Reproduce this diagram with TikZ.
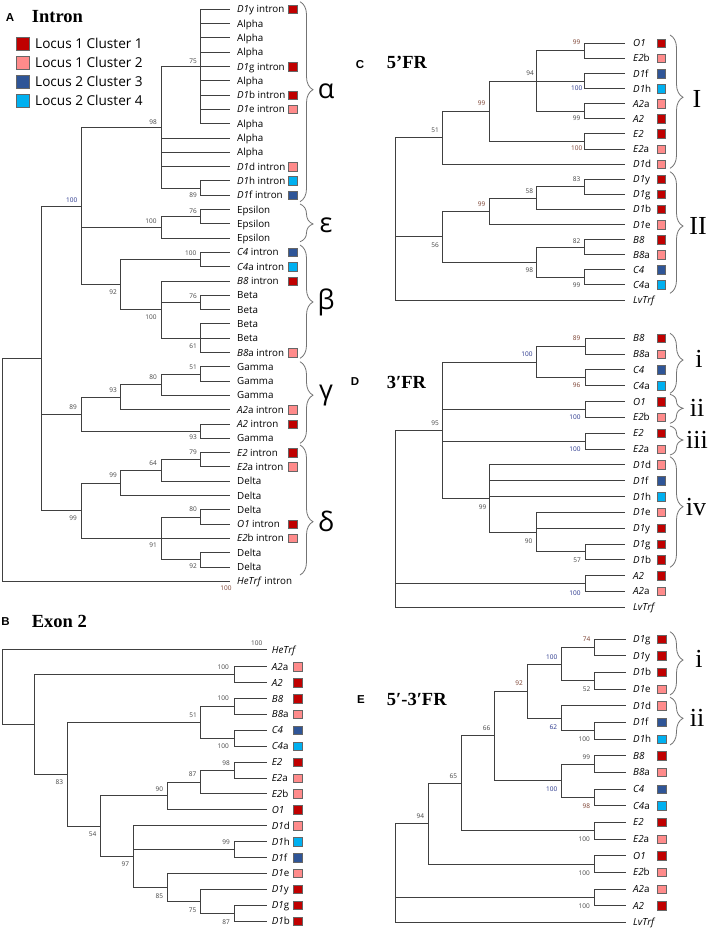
\documentclass[tikz,border=0pt]{standalone}
\usepackage{fontspec}
\setmainfont{Liberation Serif}
\newfontfamily\osf{Open Sans}
\newfontfamily\arf{Liberation Sans}
\usetikzlibrary{decorations.pathreplacing}
\definecolor{cA}{HTML}{C00000}
\definecolor{cB}{HTML}{FF8B8B}
\definecolor{cC}{HTML}{2F5597}
\definecolor{cD}{HTML}{00B0F0}
\definecolor{trc}{HTML}{404040}
\definecolor{bsg}{HTML}{444444}
\definecolor{bsb}{HTML}{23318A}
\definecolor{bsr}{HTML}{7A3E2E}
\newcounter{bsn}
\tikzset{
 tr/.style={draw=trc, line width=0.9pt},
 lbl/.style={anchor=west, inner sep=0pt, font=\osf\fontsize{9.8}{10}\selectfont, text height=7.5pt, text depth=0.5pt},
 sq/.style={draw=black!60, line width=0.5pt, minimum size=8.5pt, inner sep=0pt},
 bs/.style={inner sep=0pt, font=\osf\fontsize{6.5}{7}\selectfont},
 brc/.style={draw=black!55, line width=0.8pt},
 grk/.style={inner sep=0pt, font=\osf\fontsize{27}{28}\selectfont},
 rom/.style={inner sep=0pt, font=\fontsize{26}{28}\selectfont},
 ttl/.style={anchor=base west, inner sep=0pt, font=\bfseries\fontsize{18.5}{20}\selectfont},
 plet/.style={inner sep=0pt, font=\arf\bfseries\fontsize{11.5}{12}\selectfont},
 leg/.style={anchor=west, inner sep=0pt, font=\osf\fontsize{13.6}{15}\selectfont, text height=10pt, text depth=0pt},
 lsq/.style={draw=black!60, line width=0.6pt, minimum size=13pt, inner sep=0pt},
}
\newcommand\Lf[4]{\coordinate (#1) at (#2,#3);\node[lbl] (#1t) at (#2+\tg,#3) {#4};}
\newcommand\Ls[5]{\Lf{#1}{#2}{#3}{#4}\node[sq,fill=#5] (#1s) at (\sqx,#3) {};}
\newcommand\El[2]{\foreach \ch in {#2} {\draw[tr] (#1) |- (\ch);}}
\newcommand\Bs[4][bsg]{\stepcounter{bsn}\node[bs,text=#1] (bs\arabic{bsn}) at (#2,#3) {#4};}
\newcommand\Br[9]{\draw[brc,decoration={brace,amplitude=13pt,aspect=#5},decorate] (#2,#3) -- (#2,#4);
 \node[#8] (#1) at (#6,#7) {#9};}
\begin{document}
\begin{tikzpicture}[x=1pt,y=-1pt]
\useasboundingbox (0,0) rectangle (709,930);
\fill[white] (0,0) rectangle (709,930);
% ---------- Panel A ----------
\node[plet] (pA) at (10,18) {A};
\node[ttl] (tA) at (31.7,22) {Intron};
\node[lsq,fill=cA] (lg1) at (22.7,43.3) {};
\node[leg] (lt1) at (35,43.3) {Locus 1 Cluster 1};
\node[lsq,fill=cB] (lg2) at (22.7,62.3) {};
\node[leg] (lt2) at (35,62.3) {Locus 1 Cluster 2};
\node[lsq,fill=cC] (lg3) at (22.7,81.3) {};
\node[leg] (lt3) at (35,81.3) {Locus 2 Cluster 3};
\node[lsq,fill=cD] (lg4) at (22.7,100.3) {};
\node[leg] (lt4) at (35,100.3) {Locus 2 Cluster 4};
\def\tg{7}\def\sqx{292.5}
\Ls{a0}{230}{9.3}{\textit{D1}y intron}{cA}
\Lf{a1}{230}{23.6}{Alpha}
\Lf{a2}{230}{37.9}{Alpha}
\Lf{a3}{230}{52.2}{Alpha}
\Ls{a4}{230}{66.5}{\textit{D1}g intron}{cA}
\Lf{a5}{230}{80.8}{Alpha}
\Ls{a6}{230}{95.1}{\textit{D1}b intron}{cA}
\Ls{a7}{230}{109.4}{\textit{D1}e intron}{cB}
\Lf{a8}{230}{123.7}{Alpha}
\Lf{a9}{230}{138.0}{Alpha}
\Lf{a10}{230}{152.3}{Alpha}
\Ls{a11}{230}{166.6}{\textit{D1}d intron}{cB}
\Ls{a12}{230}{180.9}{\textit{D1}h intron}{cD}
\Ls{a13}{230}{195.2}{\textit{D1}f intron}{cC}
\Lf{a14}{230}{209.5}{Epsilon}
\Lf{a15}{230}{223.8}{Epsilon}
\Lf{a16}{230}{238.1}{Epsilon}
\Ls{a17}{230}{252.4}{\textit{C4} intron}{cC}
\Ls{a18}{230}{266.7}{\textit{C4}a intron}{cD}
\Ls{a19}{230}{281.0}{\textit{B8} intron}{cA}
\Lf{a20}{230}{295.3}{Beta}
\Lf{a21}{230}{309.6}{Beta}
\Lf{a22}{230}{323.9}{Beta}
\Lf{a23}{230}{338.2}{Beta}
\Ls{a24}{230}{352.5}{\textit{B8}a intron}{cB}
\Lf{a25}{230}{366.8}{Gamma}
\Lf{a26}{230}{381.1}{Gamma}
\Lf{a27}{230}{395.4}{Gamma}
\Ls{a28}{230}{409.7}{\textit{A2}a intron}{cB}
\Ls{a29}{230}{424.0}{\textit{A2} intron}{cA}
\Lf{a30}{230}{438.3}{Gamma}
\Ls{a31}{230}{452.6}{\textit{E2} intron}{cA}
\Ls{a32}{230}{466.9}{\textit{E2}a intron}{cB}
\Lf{a33}{230}{481.2}{Delta}
\Lf{a34}{230}{495.5}{Delta}
\Lf{a35}{230}{509.8}{Delta}
\Ls{a36}{230}{524.1}{\textit{O1} intron}{cA}
\Ls{a37}{230}{538.4}{\textit{E2}b intron}{cB}
\Lf{a38}{230}{552.7}{Delta}
\Lf{a39}{230}{567.0}{Delta}
\Lf{a40}{230}{581.3}{\textit{HeTrf} intron}
\coordinate (nA1) at (200,66.5);
\coordinate (nA2) at (200,188.05);
\coordinate (nA3) at (161,127.3);
\coordinate (nA4) at (200,216.65);
\coordinate (nA5) at (161,227.4);
\coordinate (nA6) at (200,259.55);
\coordinate (nA7) at (200,302.45);
\coordinate (nA8) at (200,338.2);
\coordinate (nA9) at (161,309.6);
\coordinate (nA10) at (120,284.6);
\coordinate (nA11) at (81.7,205.95);
\coordinate (nA12) at (200,373.95);
\coordinate (nA13) at (161,384.7);
\coordinate (nA14) at (120,397.2);
\coordinate (nA15) at (200,431.15);
\coordinate (nA16) at (81.7,414.2);
\coordinate (nA17) at (200,459.75);
\coordinate (nA18) at (161,470.5);
\coordinate (nA19) at (120,483);
\coordinate (nA20) at (200,516.95);
\coordinate (nA21) at (200,559.85);
\coordinate (nA22) at (161,538.4);
\coordinate (nA23) at (81.7,510.7);
\coordinate (nA24) at (41,358.3);
\coordinate (nA0) at (2.7,469.8);
\El{nA1}{a0,a1,a2,a3,a4,a5,a6,a7,a8}
\El{nA2}{a12,a13}
\El{nA3}{nA1,a9,a10,a11,nA2}
\El{nA4}{a14,a15}
\El{nA5}{nA4,a16}
\El{nA6}{a17,a18}
\El{nA7}{a20,a21}
\El{nA8}{a22,a23,a24}
\El{nA9}{a19,nA7,nA8}
\El{nA10}{nA6,nA9}
\El{nA11}{nA3,nA5,nA10}
\El{nA12}{a25,a26}
\El{nA13}{nA12,a27}
\El{nA14}{nA13,a28}
\El{nA15}{a29,a30}
\El{nA16}{nA14,nA15}
\El{nA17}{a31,a32}
\El{nA18}{nA17,a33}
\El{nA19}{nA18,a34}
\El{nA20}{a35,a36}
\El{nA21}{a38,a39}
\El{nA22}{nA20,nA21}
\El{nA23}{nA19,a37,nA22}
\El{nA24}{nA11,nA16,nA23}
\El{nA0}{nA24,a40}
\Bs{193}{61.7}{75}
\Bs{153}{121.7}{98}
\Bs{193}{195}{89}
\Bs[bsb]{71.7}{200}{100}
\Bs{193}{211}{76}
\Bs{151}{221}{100}
\Bs{190.7}{253.3}{100}
\Bs{113}{291.7}{92}
\Bs{193}{295.7}{76}
\Bs{151}{316.7}{100}
\Bs{193}{345.7}{61}
\Bs{193}{367}{51}
\Bs{153}{377.3}{80}
\Bs{113}{390}{93}
\Bs{73}{407.3}{89}
\Bs{193}{436.7}{93}
\Bs{193}{452.3}{79}
\Bs{153}{462.7}{64}
\Bs{113}{475}{99}
\Bs{193}{509.3}{80}
\Bs{73}{517.7}{99}
\Bs{153}{545}{91}
\Bs{193}{565.7}{92}
\Bs[bsr]{226}{588.3}{100}
\Br{gA1}{300}{1.7}{201.7}{0.44}{326}{91}{grk}{α}
\Br{gA2}{300}{204}{241.7}{0.53}{326}{225}{grk}{ε}
\Br{gA3}{300}{245}{358.3}{0.503}{326}{302.5}{grk}{β}
\Br{gA4}{300}{361.7}{443.3}{0.41}{326}{395.3}{grk}{γ}
\Br{gA5}{300}{445}{575}{0.59}{326}{521}{grk}{δ}
% ---------- Panel B ----------
\node[plet] (pB) at (5.5,622) {B};
\node[ttl] (tB) at (31.7,627) {Exon 2};
\def\tg{5}\def\sqx{297.5}
\Lf{bH}{266.7}{649.5}{\textit{HeTrf}}
\Ls{b0}{266.7}{666.7}{\textit{A2}a}{cB}
\Ls{b1}{266.7}{682.6}{\textit{A2}}{cA}
\Ls{b2}{266.7}{698.5}{\textit{B8}}{cA}
\Ls{b3}{266.7}{714.4}{\textit{B8}a}{cB}
\Ls{b4}{266.7}{730.3}{\textit{C4}}{cC}
\Ls{b5}{266.7}{746.2}{\textit{C4}a}{cD}
\Ls{b6}{266.7}{762.1}{\textit{E2}}{cA}
\Ls{b7}{266.7}{778.0}{\textit{E2}a}{cB}
\Ls{b8}{266.7}{793.9}{\textit{E2}b}{cB}
\Ls{b9}{266.7}{809.8}{\textit{O1}}{cA}
\Ls{b10}{266.7}{825.7}{\textit{D1}d}{cB}
\Ls{b11}{266.7}{841.6}{\textit{D1}h}{cD}
\Ls{b12}{266.7}{857.5}{\textit{D1}f}{cC}
\Ls{b13}{266.7}{873.4}{\textit{D1}e}{cB}
\Ls{b14}{266.7}{889.3}{\textit{D1}y}{cA}
\Ls{b15}{266.7}{905.2}{\textit{D1}g}{cA}
\Ls{b16}{266.7}{921.1}{\textit{D1}b}{cA}
\coordinate (nB1) at (234.3,674.65);
\coordinate (nB2) at (234.3,706.45);
\coordinate (nB3) at (234.3,738.25);
\coordinate (nB4) at (200.3,722.35);
\coordinate (nB5) at (234.3,770.05);
\coordinate (nB6) at (200.3,781.98);
\coordinate (nB7) at (167.3,795.9);
\coordinate (nB8) at (234.3,849.55);
\coordinate (nB9) at (234.3,913.15);
\coordinate (nB10) at (200.3,901.2);
\coordinate (nB11) at (167.3,887.3);
\coordinate (nB12) at (133.7,856.5);
\coordinate (nB13) at (100.7,826.2);
\coordinate (nB14) at (67.7,774.3);
\coordinate (nB15) at (34.7,724.5);
\coordinate (nB0) at (2.7,687);
\El{nB1}{b0,b1}
\El{nB2}{b2,b3}
\El{nB3}{b4,b5}
\El{nB4}{nB2,nB3}
\El{nB5}{b6,b7}
\El{nB6}{nB5,b8}
\El{nB7}{nB6,b9}
\El{nB8}{b11,b12}
\El{nB9}{b15,b16}
\El{nB10}{b14,nB9}
\El{nB11}{b13,nB10}
\El{nB12}{b10,nB8,nB11}
\El{nB13}{nB7,nB12}
\El{nB14}{nB4,nB13}
\El{nB15}{nB1,nB14}
\El{nB0}{bH,nB15}
\Bs{256.7}{643}{100}
\Bs{223.3}{666.7}{100}
\Bs{223.3}{698.3}{100}
\Bs{193}{715}{51}
\Bs{223.3}{745.7}{100}
\Bs{226}{762.7}{98}
\Bs{192.7}{774}{87}
\Bs{159.3}{789}{90}
\Bs{59.3}{782.3}{83}
\Bs{92.7}{834}{54}
\Bs{226}{842.3}{99}
\Bs{125.3}{864.3}{97}
\Bs{159.3}{896}{85}
\Bs{192.7}{910}{75}
\Bs{226}{921.7}{87}
% ---------- Panel C ----------
\node[plet] (pC) at (360,65) {C};
\node[ttl] (tC) at (386.7,68.3) {5’FR};
\def\tg{8}\def\sqx{661.3}
\Ls{c0}{625}{43.3}{\textit{O1}}{cA}
\Ls{c1}{625}{58.4}{\textit{E2}b}{cB}
\Ls{c2}{625}{73.5}{\textit{D1}f}{cC}
\Ls{c3}{625}{88.6}{\textit{D1}h}{cD}
\Ls{c4}{625}{103.7}{\textit{A2}a}{cB}
\Ls{c5}{625}{118.8}{\textit{A2}}{cA}
\Ls{c6}{625}{133.9}{\textit{E2}}{cA}
\Ls{c7}{625}{149.0}{\textit{E2}a}{cB}
\Ls{c8}{625}{164.1}{\textit{D1}d}{cB}
\Ls{c9}{625}{179.2}{\textit{D1}y}{cA}
\Ls{c10}{625}{194.3}{\textit{D1}g}{cA}
\Ls{c11}{625}{209.4}{\textit{D1}b}{cA}
\Ls{c12}{625}{224.5}{\textit{D1}e}{cB}
\Ls{c13}{625}{239.6}{\textit{B8}}{cA}
\Ls{c14}{625}{254.7}{\textit{B8}a}{cB}
\Ls{c15}{625}{269.8}{\textit{C4}}{cC}
\Ls{c16}{625}{284.9}{\textit{C4}a}{cD}
\Lf{c17}{625}{300.0}{\textit{LvTrf}}
\coordinate (nC1) at (584.3,50.85);
\coordinate (nC2) at (584.3,81.05);
\coordinate (nC3) at (584.3,111.25);
\coordinate (nC4) at (536.7,81.05);
\coordinate (nC5) at (584.3,141.45);
\coordinate (nC6) at (489.3,111.25);
\coordinate (nC7) at (442.3,137.7);
\coordinate (nC8) at (584.3,186.75);
\coordinate (nC9) at (536.7,198.1);
\coordinate (nC10) at (489.3,211.3);
\coordinate (nC11) at (584.3,247.15);
\coordinate (nC12) at (584.3,277.35);
\coordinate (nC13) at (536.7,262.25);
\coordinate (nC14) at (442.3,236.8);
\coordinate (nC0) at (395,218.85);
\El{nC1}{c0,c1}
\El{nC2}{c2,c3}
\El{nC3}{c4,c5}
\El{nC4}{nC1,nC2,nC3}
\El{nC5}{c6,c7}
\El{nC6}{nC4,nC5}
\El{nC7}{nC6,c8}
\El{nC8}{c9,c10}
\El{nC9}{nC8,c11}
\El{nC10}{nC9,c12}
\El{nC11}{c13,c14}
\El{nC12}{c15,c16}
\El{nC13}{nC11,nC12}
\El{nC14}{nC10,nC13}
\El{nC0}{nC7,nC14,c17}
\Bs[bsr]{576.7}{41.7}{99}
\Bs{530}{72.7}{94}
\Bs[bsb]{576.7}{87.7}{100}
\Bs[bsr]{481.7}{103.3}{99}
\Bs{576.7}{118.3}{99}
\Bs{435}{130.7}{51}
\Bs[bsr]{576.7}{148.3}{100}
\Bs{576.7}{179.3}{83}
\Bs{529.3}{191}{58}
\Bs[bsr]{481.7}{204}{99}
\Bs{576.7}{240.7}{82}
\Bs{435}{245}{56}
\Bs{529.3}{270}{98}
\Bs{576.7}{285}{99}
\Br{rC1}{670}{35}{168.3}{0.467}{697}{99}{rom}{I}
\Br{rC2}{670}{171.7}{293.3}{0.447}{698}{226}{rom}{II}
% ---------- Panel D ----------
\node[plet] (pD) at (355,381.7) {D};
\node[ttl] (tD) at (386.7,388.3) {3′FR};
\def\tg{8}\def\sqx{661.3}
\Ls{d0}{625}{338.3}{\textit{B8}}{cA}
\Ls{d1}{625}{354.1}{\textit{B8}a}{cB}
\Ls{d2}{625}{369.9}{\textit{C4}}{cC}
\Ls{d3}{625}{385.8}{\textit{C4}a}{cD}
\Ls{d4}{625}{401.6}{\textit{O1}}{cA}
\Ls{d5}{625}{417.4}{\textit{E2}b}{cB}
\Ls{d6}{625}{433.2}{\textit{E2}}{cA}
\Ls{d7}{625}{449.0}{\textit{E2}a}{cB}
\Ls{d8}{625}{464.9}{\textit{D1}d}{cB}
\Ls{d9}{625}{480.7}{\textit{D1}f}{cC}
\Ls{d10}{625}{496.5}{\textit{D1}h}{cD}
\Ls{d11}{625}{512.3}{\textit{D1}e}{cB}
\Ls{d12}{625}{528.1}{\textit{D1}y}{cA}
\Ls{d13}{625}{544.0}{\textit{D1}g}{cA}
\Ls{d14}{625}{559.8}{\textit{D1}b}{cA}
\Ls{d15}{625}{575.6}{\textit{A2}}{cA}
\Ls{d16}{625}{591.4}{\textit{A2}a}{cB}
\Lf{d17}{625}{607.2}{\textit{LvTrf}}
\coordinate (nD1) at (585,346.2);
\coordinate (nD2) at (585,377.85);
\coordinate (nD3) at (536.7,362.0);
\coordinate (nD4) at (585,409.5);
\coordinate (nD5) at (585,441.1);
\coordinate (nD6) at (585,551.9);
\coordinate (nD7) at (536.7,532.1);
\coordinate (nD8) at (489.3,498.5);
\coordinate (nD9) at (442.7,430.25);
\coordinate (nD10) at (585,583.5);
\coordinate (nD0) at (395,518.7);
\El{nD1}{d0,d1}
\El{nD2}{d2,d3}
\El{nD3}{nD1,nD2}
\El{nD4}{d4,d5}
\El{nD5}{d6,d7}
\El{nD6}{d13,d14}
\El{nD7}{d11,d12,nD6}
\El{nD8}{d8,d9,d10,nD7}
\El{nD9}{nD3,nD4,nD5,nD8}
\El{nD10}{d15,d16}
\El{nD0}{nD9,nD10,d17}
\Bs[bsr]{576.7}{338.3}{89}
\Bs[bsb]{527}{354.3}{100}
\Bs[bsr]{576.7}{385}{96}
\Bs[bsb]{575}{417.3}{100}
\Bs{435}{422.7}{95}
\Bs[bsb]{575}{449.3}{100}
\Bs{482.7}{506.7}{99}
\Bs{528.7}{540.7}{90}
\Bs{577}{560.7}{57}
\Bs[bsb]{575}{592.7}{100}
\Br{rD1}{670}{333.3}{393.3}{0.445}{699}{359}{rom}{i}
\Br{rD2}{670}{394.3}{423.3}{0.483}{697}{408}{rom}{ii}
\Br{rD3}{670}{426}{455}{0.483}{697}{440}{rom}{iii}
\Br{rD4}{670}{456.7}{567.3}{0.452}{696}{507}{rom}{iv}
% ---------- Panel E ----------
\node[plet] (pE) at (361,700) {E};
\node[ttl] (tE) at (386.7,705) {5′-3′FR};
\def\tg{7}\def\sqx{661.7}
\Ls{e0}{626}{639.0}{\textit{D1}g}{cA}
\Ls{e1}{626}{655.7}{\textit{D1}y}{cA}
\Ls{e2}{626}{672.3}{\textit{D1}b}{cA}
\Ls{e3}{626}{689.0}{\textit{D1}e}{cB}
\Ls{e4}{626}{705.7}{\textit{D1}d}{cB}
\Ls{e5}{626}{722.4}{\textit{D1}f}{cC}
\Ls{e6}{626}{739.0}{\textit{D1}h}{cD}
\Ls{e7}{626}{755.7}{\textit{B8}}{cA}
\Ls{e8}{626}{772.4}{\textit{B8}a}{cB}
\Ls{e9}{626}{789.0}{\textit{C4}}{cC}
\Ls{e10}{626}{805.7}{\textit{C4}a}{cD}
\Ls{e11}{626}{822.4}{\textit{E2}}{cA}
\Ls{e12}{626}{839.0}{\textit{E2}a}{cB}
\Ls{e13}{626}{855.7}{\textit{O1}}{cA}
\Ls{e14}{626}{872.4}{\textit{E2}b}{cB}
\Ls{e15}{626}{889.1}{\textit{A2}a}{cB}
\Ls{e16}{626}{905.7}{\textit{A2}}{cA}
\Lf{e17}{626}{922.4}{\textit{LvTrf}}
\coordinate (nE1) at (594.3,647.35);
\coordinate (nE2) at (594.3,680.65);
\coordinate (nE3) at (561,664.0);
\coordinate (nE4) at (594.3,730.7);
\coordinate (nE5) at (561,718.2);
\coordinate (nE6) at (527.3,691.1);
\coordinate (nE7) at (594.3,764.05);
\coordinate (nE8) at (594.3,797.35);
\coordinate (nE9) at (561,780.7);
\coordinate (nE10) at (494.3,735.9);
\coordinate (nE11) at (594.3,830.7);
\coordinate (nE12) at (461.7,783.3);
\coordinate (nE13) at (594.3,864.05);
\coordinate (nE14) at (428.3,823.7);
\coordinate (nE15) at (594.3,897.4);
\coordinate (nE0) at (395.7,873.05);
\El{nE1}{e0,e1}
\El{nE2}{e2,e3}
\El{nE3}{nE1,nE2}
\El{nE4}{e5,e6}
\El{nE5}{e4,nE4}
\El{nE6}{nE3,nE5}
\El{nE7}{e7,e8}
\El{nE8}{e9,e10}
\El{nE9}{nE7,nE8}
\El{nE10}{nE6,nE9}
\El{nE11}{e11,e12}
\El{nE12}{nE10,nE11}
\El{nE13}{e13,e14}
\El{nE14}{nE12,nE13}
\El{nE15}{e15,e16}
\El{nE0}{nE14,nE15,e17}
\Bs[bsr]{586.7}{639.3}{74}
\Bs[bsb]{551.7}{656.7}{100}
\Bs[bsr]{519}{683.3}{92}
\Bs{586.7}{689}{52}
\Bs{486.7}{727.7}{66}
\Bs[bsb]{553.3}{726.7}{62}
\Bs{584.3}{739.3}{100}
\Bs{586.3}{756.7}{99}
\Bs{453.3}{775.7}{65}
\Bs[bsb]{551.7}{789.3}{100}
\Bs[bsr]{586.3}{806}{98}
\Bs{420.3}{816}{94}
\Bs{584.3}{839}{100}
\Bs{584.3}{873.3}{100}
\Bs{584.3}{905.7}{100}
\Br{rE1}{670}{631.7}{695}{0.447}{699}{659}{rom}{i}
\Br{rE2}{670}{697.3}{745}{0.44}{697}{718}{rom}{ii}
\end{tikzpicture}
\end{document}
